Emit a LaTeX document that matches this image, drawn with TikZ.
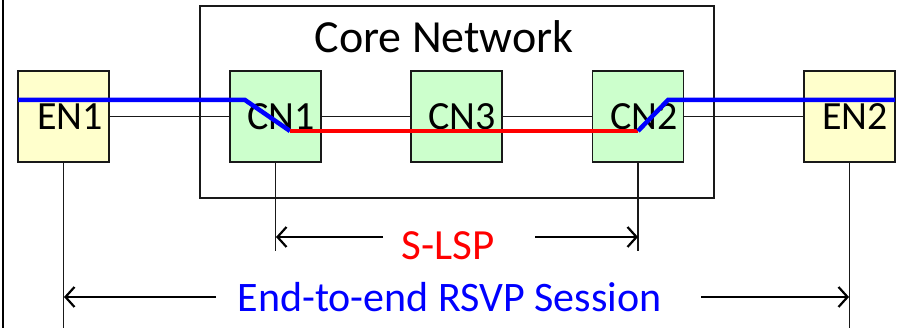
\documentclass[tikz,border=0pt]{standalone}
\usepackage{fontspec}
\setmainfont{Carlito}
\usetikzlibrary{arrows.meta}
\definecolor{enfill}{RGB}{255,255,204}
\definecolor{cnfill}{RGB}{204,255,204}
\definecolor{pblue}{RGB}{0,0,255}
\definecolor{pred}{RGB}{255,0,0}
\tikzset{
  box/.style={draw=black!90, line width=1.6pt, minimum width=91pt, minimum height=91pt, inner sep=0pt},
  enbox/.style={box, fill=enfill},
  cnbox/.style={box, fill=cnfill},
  boxlabel/.style={anchor=base, font=\fontsize{40}{44}\selectfont, inner sep=0pt},
  link/.style={draw=black!90, line width=1.5pt},
  drop/.style={draw=black!90, line width=1.5pt},
  path/.style={line width=4.5pt},
  span/.style={line width=2.2pt, -{Straight Barb[length=9pt,width=20pt,line width=2.2pt]}},
}
\begin{document}
\begin{tikzpicture}[x=1pt,y=-1pt]
\useasboundingbox (0,0) rectangle (900,328);
\draw[line width=2pt] (3,0) -- (3,328);
% core network
\node[draw=black!90, line width=1.6pt, minimum width=514pt, minimum height=192pt, inner sep=0pt] (core) at (457,102) {};
\node[anchor=base, font=\fontsize{46}{50}\selectfont, inner sep=0pt] (coretitle) at (444,52.5) {Core Network};
% boxes
\node[enbox] (EN1) at (63.5,116.5) {};
\node[cnbox] (CN1) at (275.5,116.5) {};
\node[cnbox] (CN3) at (456.5,116.5) {};
\node[cnbox] (CN2) at (638,116.5) {};
\node[enbox] (EN2) at (849.5,116.5) {};
% links
\draw[link] (EN1.east) -- (CN1.west);
\draw[link] (CN1.east) -- (CN3.west);
\draw[link] (CN3.east) -- (CN2.west);
\draw[link] (CN2.east) -- (EN2.west);
% labels
\node[boxlabel] (l1) at (70,130) {EN1};
\node[boxlabel] (l2) at (281,130) {CN1};
\node[boxlabel] (l3) at (462,130) {CN3};
\node[boxlabel] (l4) at (644,130) {CN2};
\node[boxlabel] (l5) at (855,130) {EN2};
% LSP paths
\coordinate (b0) at (18,100);
\coordinate (b1) at (245,100);
\coordinate (r0) at (290,131);
\coordinate (r1) at (638,131);
\coordinate (b2) at (668,100);
\coordinate (b3) at (895,100);
\draw[path, pblue] (b0) -- (b1) -- (r0);
\draw[path, pred] (r0) -- (r1);
\draw[path, pblue] (r1) -- (b2) -- (b3);
% drops
\coordinate (d1) at (63.5,328);
\coordinate (d2) at (275.5,251);
\coordinate (d3) at (638,251);
\coordinate (d4) at (849.5,328);
\draw[drop] (EN1.south) -- (d1);
\draw[drop] (CN1.south) -- (d2);
\draw[drop] (CN2.south) -- (d3);
\draw[drop] (EN2.south) -- (d4);
% S-LSP span
\node[anchor=base, text=pred, font=\fontsize{43}{47}\selectfont, inner sep=0pt] (slsp) at (448,260) {S-LSP};
\coordinate (s0) at (383,237);
\coordinate (s1) at (276,237);
\coordinate (s2) at (535,237);
\coordinate (s3) at (638,237);
\draw[span] (s0) -- (s1);
\draw[span] (s2) -- (s3);
% end-to-end span
\node[anchor=base, text=pblue, font=\fontsize{42}{46}\selectfont, inner sep=0pt] (e2e) at (449.5,311.5) {End-to-end RSVP Session};
\coordinate (e0) at (216,297);
\coordinate (e1) at (64,297);
\coordinate (e2) at (701,297);
\coordinate (e3) at (849,297);
\draw[span] (e0) -- (e1);
\draw[span] (e2) -- (e3);
\end{tikzpicture}
\end{document}
